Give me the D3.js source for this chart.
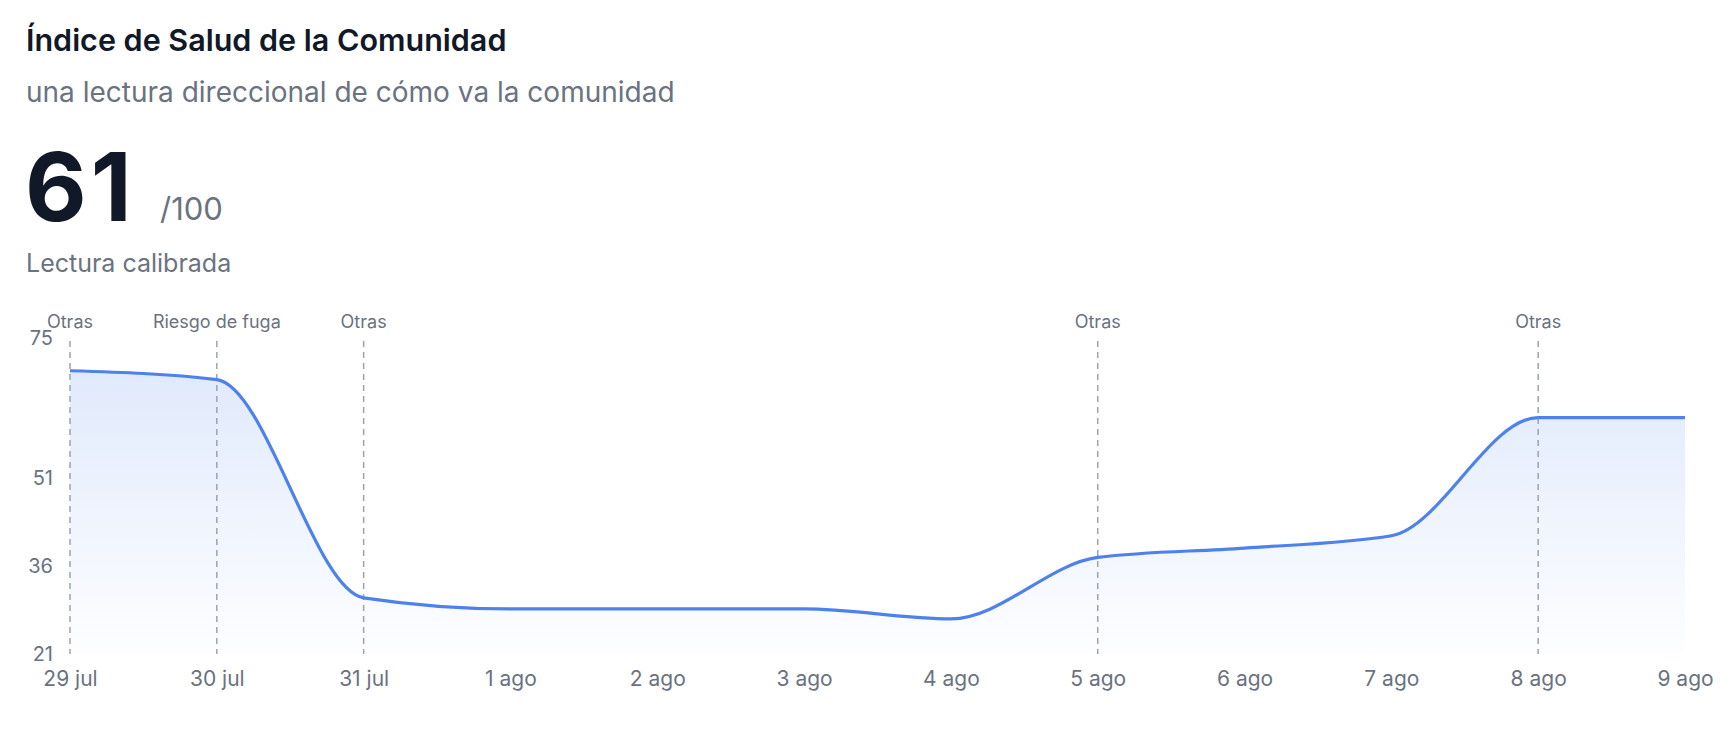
<!DOCTYPE html>
<html>
<head>
<meta charset="utf-8">
<script src="https://cdn.jsdelivr.net/npm/d3@7"></script>
<style>
  html, body { margin: 0; padding: 0; background: #ffffff; }
  body { width: 1724px; height: 732px; overflow: hidden; font-family: Inter, "Noto Sans", sans-serif; }
</style>
</head>
<body>
<svg id="chart" width="1724" height="732"></svg>
<script>
const dates = ["29 jul","30 jul","31 jul","1 ago","2 ago","3 ago","4 ago","5 ago","6 ago","7 ago","8 ago","9 ago"];
const values = [69.4, 67.9, 30.6, 28.7, 28.7, 28.7, 27.0, 37.5, 39.1, 41.2, 61.4, 61.4];
const yTicks = [21, 36, 51, 75];
const eventIndex = [0, 1, 2, 7, 10];
const eventLabels = ["Otras", "Riesgo de fuga", "Otras", "Otras", "Otras"];
const title = "Índice de Salud de la Comunidad";
const subtitle = "una lectura direccional de cómo va la comunidad";
const score = "61";
const scoreMax = "/100";
const scoreNote = "Lectura calibrada";

const svg = d3.select("#chart");
const plotLeft = 70, plotRight = 1685, plotTop = 338, plotBottom = 654;

const x = d3.scalePoint().domain(dates).range([plotLeft, plotRight]);
const y = d3.scaleLinear().domain([21, 75]).range([plotBottom, plotTop]);

// header texts
svg.append("text").attr("x", 26).attr("y", 51)
  .attr("font-size", 30.5).attr("font-weight", 600).attr("fill", "#111827")
  .text(title);
svg.append("text").attr("x", 26).attr("y", 102)
  .attr("font-size", 28).attr("fill", "#6b7280").text(subtitle);
svg.append("text").attr("x", 25).attr("y", 221)
  .attr("font-size", 95).attr("font-weight", 700).attr("fill", "#111827")
  .attr("letter-spacing", "4").text(score);
svg.append("text").attr("x", 160).attr("y", 220)
  .attr("font-size", 31).attr("fill", "#6b7280").text(scoreMax);
svg.append("text").attr("x", 26).attr("y", 272)
  .attr("font-size", 25).attr("fill", "#6b7280").text(scoreNote);

// gradient
const defs = svg.append("defs");
const grad = defs.append("linearGradient").attr("id", "areaGrad")
  .attr("gradientUnits", "userSpaceOnUse")
  .attr("x1", 0).attr("x2", 0).attr("y1", y(75)).attr("y2", y(21));
grad.append("stop").attr("offset", 0).attr("stop-color", "#4d82ec").attr("stop-opacity", 0.19);
grad.append("stop").attr("offset", 1).attr("stop-color", "#4d82ec").attr("stop-opacity", 0.01);

const data = dates.map((d, i) => ({ d, v: values[i] }));

const area = d3.area().x(p => x(p.d)).y0(y(21)).y1(p => y(p.v)).curve(d3.curveMonotoneX);
const line = d3.line().x(p => x(p.d)).y(p => y(p.v)).curve(d3.curveMonotoneX);

svg.append("path").datum(data).attr("d", area).attr("fill", "url(#areaGrad)");

// event lines
const ev = svg.append("g");
eventIndex.forEach((idx, k) => {
  const xx = x(dates[idx]);
  ev.append("line").attr("x1", xx).attr("x2", xx).attr("y1", y(75) + 3).attr("y2", y(21))
    .attr("stroke", "#9ca3af").attr("stroke-width", 1.5).attr("stroke-dasharray", "6,5");
  ev.append("text").attr("x", xx).attr("y", 328).attr("text-anchor", "middle")
    .attr("font-size", 18).attr("fill", "#6b7280").text(eventLabels[k]);
});

svg.append("path").datum(data).attr("d", line)
  .attr("fill", "none").attr("stroke", "#4d82ec").attr("stroke-width", 3.2);

// axes
const yAxis = d3.axisLeft(y).tickValues(yTicks).tickSize(0).tickPadding(17);
const gy = svg.append("g").attr("transform", `translate(${plotLeft},0)`).call(yAxis);
gy.select(".domain").remove();
gy.selectAll("text").attr("font-size", 20).attr("fill", "#6b7280").attr("font-family", "Inter");

const xAxis = d3.axisBottom(x).tickSize(0).tickPadding(17);
const gx = svg.append("g").attr("transform", `translate(0,${plotBottom})`).call(xAxis);
gx.select(".domain").remove();
gx.selectAll("text").attr("font-size", 21).attr("fill", "#6b7280").attr("font-family", "Inter");
</script>
</body>
</html>
